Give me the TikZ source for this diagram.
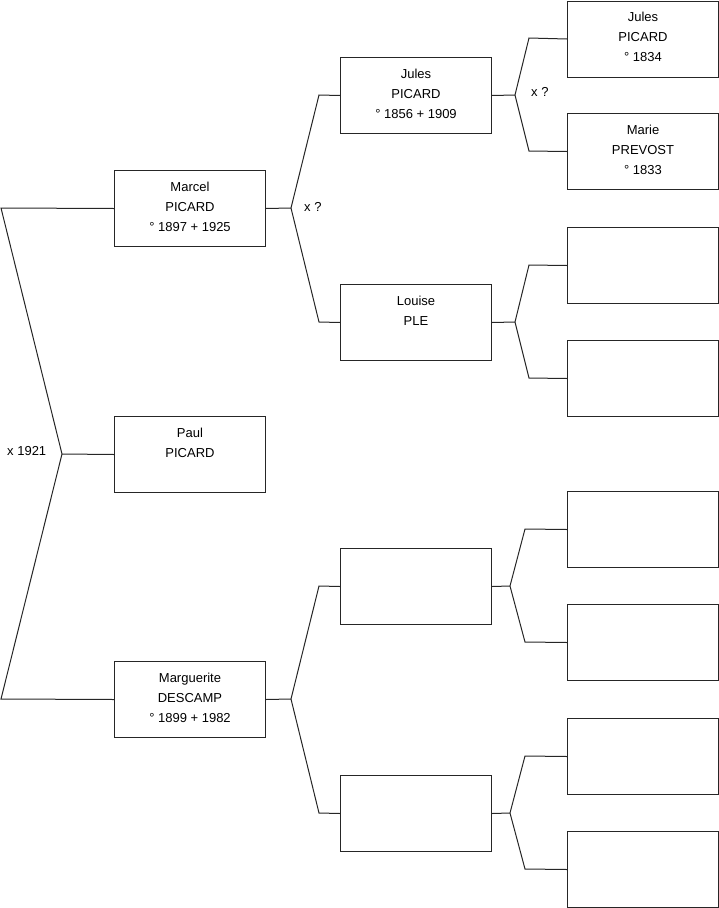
\documentclass[tikz,border=0pt]{standalone}
\usepackage{fontspec}
\setmainfont{Liberation Sans}
\begin{document}
\begin{tikzpicture}[x=1pt,y=-1pt,
  person/.style={draw=black!85, line width=1pt, rectangle, minimum width=151pt,
    minimum height=76pt, anchor=north west, inner sep=0pt},
  txt/.style={anchor=north, yshift=-11.6pt, align=center,
    font=\fontsize{13}{20}\selectfont, inner sep=0pt},
  link/.style={draw=black!85, line width=1pt},
  lbl/.style={font=\fontsize{13}{20}\selectfont, inner sep=0pt, anchor=west}]
\useasboundingbox (0,0) rectangle (719,908);

% level 1
\node[person, label={[txt]north:Marcel\\PICARD\\° 1897 + 1925}] (marcel) at (114,170) {};
\node[person, label={[txt]north:Paul\\PICARD}] (paul) at (114,416) {};
\node[person, label={[txt]north:Marguerite\\DESCAMP\\° 1899 + 1982}] (marguerite) at (114,661) {};

% level 2
\node[person, label={[txt]north:Jules\\PICARD\\° 1856 + 1909}] (jules) at (340,57) {};
\node[person, label={[txt]north:Louise\\PLE}] (louise) at (340,284) {};
\node[person] (e2a) at (340,548) {};
\node[person] (e2b) at (340,775) {};

% level 3
\node[person, label={[txt]north:Jules\\PICARD\\° 1834}] (julesb) at (567,0.5) {};
\node[person, label={[txt]north:Marie\\PREVOST\\° 1833}] (marie) at (567,113) {};
\node[person] (e3a) at (567,227) {};
\node[person] (e3b) at (567,340) {};
\node[person] (e3c) at (567,491) {};
\node[person] (e3d) at (567,604) {};
\node[person] (e3e) at (567,718) {};
\node[person] (e3f) at (567,831) {};

% root junction
\coordinate (j0) at (62,454);
\coordinate (c0a) at (1,208);
\coordinate (c0b) at (1,699);
\draw[link] (marcel.west) -- (c0a) -- (j0) -- (c0b) -- (marguerite.west);
\draw[link] (paul.west) -- (j0);
\node[lbl] (m0) at (7,451) {x 1921};

% level 1 -> level 2
\coordinate (j1a) at (291,208);
\coordinate (c1a) at (319,95);
\coordinate (c1b) at (319,322);
\draw[link] (marcel.east) -- (j1a);
\draw[link] (jules.west) -- (c1a) -- (j1a) -- (c1b) -- (louise.west);
\node[lbl] (m1) at (304,207) {x ?};

\coordinate (j1b) at (291,699);
\coordinate (c1c) at (319,586);
\coordinate (c1d) at (319,813);
\draw[link] (marguerite.east) -- (j1b);
\draw[link] (e2a.west) -- (c1c) -- (j1b) -- (c1d) -- (e2b.west);

% level 2 -> level 3
\coordinate (j2a) at (515,95);
\coordinate (c2a) at (529,38);
\coordinate (c2b) at (529,151);
\draw[link] (jules.east) -- (j2a);
\draw[link] (julesb.west) -- (c2a) -- (j2a) -- (c2b) -- (marie.west);
\node[lbl] (m2) at (531,92) {x ?};

\coordinate (j2b) at (515,322);
\coordinate (c2c) at (529,265);
\coordinate (c2d) at (529,378);
\draw[link] (louise.east) -- (j2b);
\draw[link] (e3a.west) -- (c2c) -- (j2b) -- (c2d) -- (e3b.west);

\coordinate (j2c) at (510,586);
\coordinate (c2e) at (525,529);
\coordinate (c2f) at (525,642);
\draw[link] (e2a.east) -- (j2c);
\draw[link] (e3c.west) -- (c2e) -- (j2c) -- (c2f) -- (e3d.west);

\coordinate (j2d) at (510,813);
\coordinate (c2g) at (525,756);
\coordinate (c2h) at (525,869);
\draw[link] (e2b.east) -- (j2d);
\draw[link] (e3e.west) -- (c2g) -- (j2d) -- (c2h) -- (e3f.west);
\end{tikzpicture}
\end{document}
